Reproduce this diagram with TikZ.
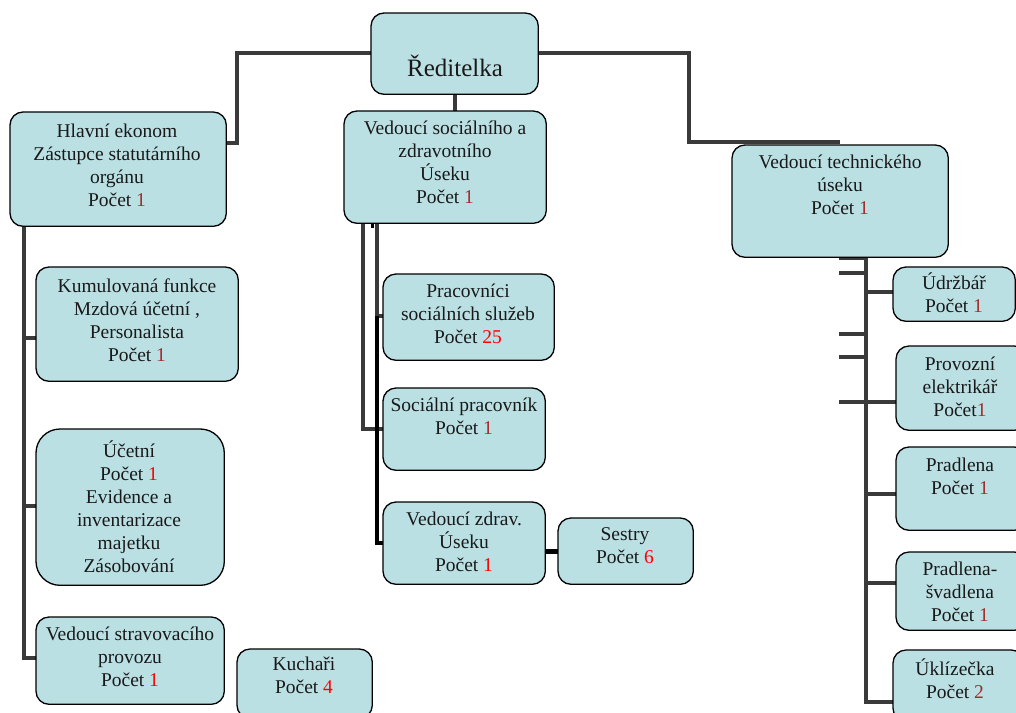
\documentclass[tikz,border=0pt]{standalone}
\usepackage{fontspec}
\setmainfont{Liberation Serif}
\definecolor{boxfill}{RGB}{187,224,228}
\definecolor{conngray}{RGB}{58,58,58}
\definecolor{numdark}{RGB}{165,42,42}
\definecolor{numred}{RGB}{255,0,0}
\newcommand{\numdk}[1]{\textcolor{numdark}{#1}}
\newcommand{\numrd}[1]{\textcolor{numred}{#1}}
\begin{document}
\begin{tikzpicture}[x=1pt,y=-1pt,
 bx/.style={draw=black, fill=boxfill, line width=1.3pt, rounded corners=13pt, inner sep=0pt, anchor=north west},
 tx/.style={align=center, inner sep=0pt, font=\fontsize{19.5}{23}\selectfont, text=black!90},
 conn/.style={draw=conngray, line width=4pt},
 connb/.style={draw=black, line width=4.5pt}]
\useasboundingbox (0,0) rectangle (1016,712);
\clip (0,0) rectangle (1016,712);
% box frames as named nodes (drawn later, after the connectors)
\path
 node[bx, minimum width=166pt, minimum height=80pt, draw=none, fill=none] (dir) at (371,13) {}
 node[bx, minimum width=215pt, minimum height=113pt, draw=none, fill=none] (hlavni) at (10,112) {}
 node[bx, minimum width=201pt, minimum height=111pt, draw=none, fill=none] (vsoc) at (344,111) {}
 node[bx, minimum width=215pt, minimum height=111pt, draw=none, fill=none] (vtech) at (732,145) {}
 node[bx, minimum width=201pt, minimum height=113pt, draw=none, fill=none] (kum) at (36,267) {}
 node[bx, minimum width=187pt, minimum height=155pt, draw=none, fill=none] (ucetni) at (36,429) {}
 node[bx, minimum width=187pt, minimum height=86pt, draw=none, fill=none] (vstrav) at (36,617) {}
 node[bx, minimum width=134pt, minimum height=68pt, draw=none, fill=none] (kuchari) at (237,649) {}
 node[bx, minimum width=170pt, minimum height=85pt, draw=none, fill=none] (prac) at (383,274) {}
 node[bx, minimum width=161pt, minimum height=81pt, draw=none, fill=none] (socp) at (383,388) {}
 node[bx, minimum width=161pt, minimum height=81pt, draw=none, fill=none] (vzdr) at (383,502) {}
 node[bx, minimum width=134pt, minimum height=65pt, draw=none, fill=none] (sestry) at (558,518) {}
 node[bx, minimum width=121pt, minimum height=53pt, draw=none, fill=none] (udrz) at (893,267) {}
 node[bx, minimum width=130pt, minimum height=83pt, draw=none, fill=none] (prov) at (896,346) {}
 node[bx, minimum width=130pt, minimum height=82pt, draw=none, fill=none] (pradl) at (896,447) {}
 node[bx, minimum width=130pt, minimum height=77pt, draw=none, fill=none] (svad) at (896,552) {}
 node[bx, minimum width=130pt, minimum height=70pt, draw=none, fill=none] (uklid) at (893,650) {};
% connectors
\draw[conn] (dir.west |- 0,53) -| (237,143) -- (hlavni.east |- 0,143);
\draw[conn] (dir.east |- 0,53) -| (689,142) -- (vtech.north |- 0,142);
\draw[conn] (dir.south) -- (dir.south |- vsoc.north);
\draw[conn] (hlavni.south -| 24,0) |- (vstrav.west |- 0,658);
\draw[conn] (24,338) -- (kum.west |- 0,338);
\draw[conn] (24,506) -- (ucetni.west |- 0,506);
\draw[conn] (vsoc.south -| 363,0) |- (socp.west |- 0,429);
\draw[conn] (vsoc.south -| 377,0) |- (prac.west |- 0,316);
\draw[connb] (377,316) |- (vzdr.west |- 0,543);
\draw[connb, line width=3pt] (vsoc.south -| 372,0) -- (372,228);
\draw[connb, line width=5pt] (vzdr.east |- 0,551) -- (sestry.west |- 0,551);
\draw[conn] (vtech.south -| 866,0) |- (uklid.west |- 0,702);
\draw[conn] (839,258) -- (866,258);
\draw[conn] (839,273) -- (866,273);
\draw[conn] (839,334) -- (866,334);
\draw[conn] (839,357) -- (866,357);
\draw[conn] (866,292) -- (udrz.west |- 0,292);
\draw[conn] (839,402) -- (prov.west |- 0,402);
\draw[conn] (866,494) -- (pradl.west |- 0,494);
\draw[conn] (866,583) -- (svad.west |- 0,583);
% visible boxes
\foreach \b in {dir,hlavni,vsoc,vtech,kum,vstrav,kuchari,prac,socp,vzdr,sestry,udrz,prov,pradl,svad,uklid}
  \draw[bx] (\b.north west) rectangle (\b.south east);
\draw[bx, rounded corners=24pt] (ucetni.north west) rectangle (ucetni.south east);
% texts
\node[tx, font=\fontsize{25}{30}\selectfont] (dir-t) at (455,66) {Ředitelka};
\node[tx] (hlavni-t) at (117,165) {Hlavní ekonom\\Zástupce statutárního\\orgánu\\Počet \numdk{1}};
\node[tx] (vsoc-t) at (445,162) {Vedoucí sociálního a\\zdravotního\\Úseku\\Počet \numdk{1}};
\node[tx] (vtech-t) at (840,185) {Vedoucí technického\\úseku\\Počet \numdk{1}};
\node[tx] (kum-t) at (137,320) {Kumulovaná funkce\\Mzdová účetní ,\\Personalista\\Počet \numdk{1}};
\node[tx] (ucetni-t) at (129,507) {Účetní\\Počet \numrd{1}\\Evidence a\\inventarizace\\majetku\\Zásobování};
\node[tx] (vstrav-t) at (130,657) {Vedoucí stravovacího\\provozu\\Počet \numrd{1}};
\node[tx] (kuchari-t) at (304,675) {Kuchaři\\Počet \numrd{4}};
\node[tx] (prac-t) at (468,314) {Pracovníci\\sociálních služeb\\Počet \numrd{25}};
\node[tx] (socp-t) at (464,416) {Sociální pracovník\\Počet \numdk{1}};
\node[tx] (vzdr-t) at (464,542) {Vedoucí zdrav.\\Úseku\\Počet \numrd{1}};
\node[tx] (sestry-t) at (625,546) {Sestry\\Počet \numrd{6}};
\node[tx] (udrz-t) at (954,293) {Údržbář\\Počet \numdk{1}};
\node[tx] (prov-t) at (960,387) {Provozní\\elektrikář\\Počet\numdk{1}};
\node[tx] (pradl-t) at (960,476) {Pradlena\\Počet \numdk{1}};
\node[tx] (svad-t) at (960,592) {Pradlena-\\švadlena\\Počet \numdk{1}};
\node[tx] (uklid-t) at (955,679) {Úklízečka\\Počet \numdk{2}};
\end{tikzpicture}
\end{document}
